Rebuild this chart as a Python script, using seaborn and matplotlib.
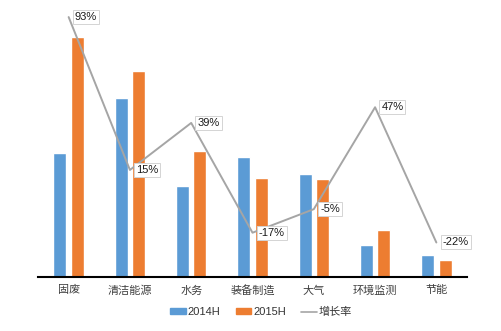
import matplotlib
matplotlib.use("Agg")
import matplotlib.pyplot as plt
from matplotlib.patches import Patch
from matplotlib.lines import Line2D
import seaborn as sns
import pandas as pd
import numpy as np

categories = ["固废", "清洁能源", "水务", "装备制造", "大气", "环境监测", "节能"]
values_2014 = [124, 179, 91, 120, 103, 32, 22]
values_2015 = [240, 206, 126, 99, 98, 47, 17]
growth = [93, 15, 39, -17, -5, 47, -22]
growth_labels = ["93%", "15%", "39%", "-17%", "-5%", "47%", "-22%"]
series_names = ["2014H", "2015H"]
line_name = "增长率"

sns.set_theme(style="white")
plt.rcParams["font.family"] = ["Liberation Sans", "Noto Sans CJK SC", "DejaVu Sans"]

blue = "#5B9BD5"
orange = "#ED7D31"
gray = "#A5A5A5"

df = pd.DataFrame({
    "category": categories * 2,
    "value": values_2014 + values_2015,
    "series": [series_names[0]] * len(categories) + [series_names[1]] * len(categories),
})

fig = plt.figure(figsize=(5.02, 3.31), dpi=100)
ax = fig.add_axes([38 / 502, 54 / 331, 429 / 502, 267 / 331])

sns.barplot(data=df, x="category", y="value", hue="series", order=categories,
            hue_order=series_names, palette=[blue, orange], width=0.57, gap=0.26,
            saturation=1, ax=ax, legend=False)
ax.set_xlim(-0.5, len(categories) - 0.5)
ax.set_ylim(0, 267)
ax.set_xlabel("")
ax.set_ylabel("")
ax.set_yticks([])
for s in ["top", "right", "left"]:
    ax.spines[s].set_visible(False)
ax.spines["bottom"].set_color("black")
ax.spines["bottom"].set_linewidth(1.5)
ax.tick_params(axis="x", length=0, pad=6, labelsize=8, labelcolor="#404040")

ax2 = ax.twinx()
sns.lineplot(x=np.arange(len(categories)), y=growth, ax=ax2, color=gray, linewidth=1.4)
ax2.set_ylim(-39.6, 96.6)
ax2.set_yticks([])
ax2.set_ylabel("")
for s in ["top", "right", "left", "bottom"]:
    ax2.spines[s].set_visible(False)

for i, (g, lab) in enumerate(zip(growth, growth_labels)):
    ax2.annotate(lab, xy=(i, g), xytext=(4.5, 0), textcoords="offset points",
                 ha="left", va="center", fontsize=8, color="#1a1a1a",
                 bbox=dict(boxstyle="square,pad=0.18", fc="white", ec="#d4d4d4", lw=0.7))

handles = [Patch(color=blue), Patch(color=orange), Line2D([0], [0], color=gray, lw=1.2)]
fig.legend(handles, series_names + [line_name], loc="center", bbox_to_anchor=(0.52, 0.057),
           ncol=3, frameon=False, fontsize=8, handlelength=1.4, handleheight=0.5,
           handletextpad=0.15, columnspacing=1.4, labelcolor="#333333")

fig.savefig("out.png", dpi=100)
